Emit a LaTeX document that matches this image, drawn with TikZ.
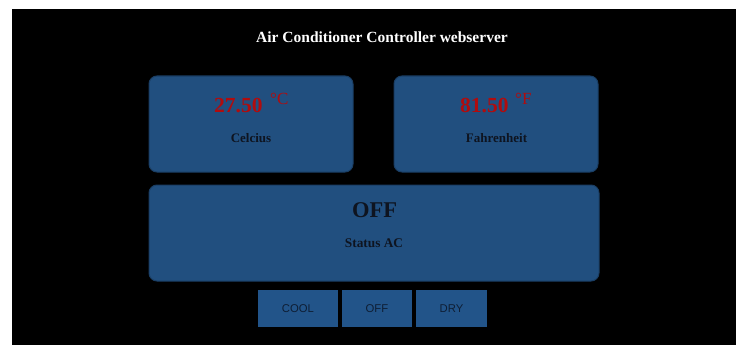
\documentclass[tikz,border=0pt]{standalone}
\usepackage{fontspec}
\setmainfont{Liberation Serif}
\newfontfamily\arialfont{Liberation Sans}
\definecolor{pageblack}{RGB}{0,0,0}
\definecolor{panelblue}{RGB}{33,79,127}
\definecolor{paneledge}{RGB}{26,62,100}
\definecolor{btnblue}{RGB}{34,84,137}
\definecolor{valred}{RGB}{176,12,14}
\definecolor{labdark}{RGB}{14,20,32}
\definecolor{btntext}{RGB}{14,30,52}
\tikzset{
  panel/.style={fill=panelblue, draw=paneledge, line width=1pt, rounded corners=8pt, inner sep=0pt},
  btn/.style={fill=btnblue, draw=none, inner sep=0pt, minimum width=80pt, minimum height=37pt},
  bigval/.style={anchor=base west, inner sep=0pt, text=valred, font=\fontsize{21.5}{24}\selectfont\bfseries},
  unit/.style={anchor=base west, inner sep=0pt, text=valred, font=\fontsize{17}{19}\selectfont},
  plabel/.style={anchor=base, inner sep=0pt, text=labdark, font=\fontsize{13}{15}\selectfont\bfseries},
  btnlabel/.style={anchor=base, inner sep=0pt, text=btntext, font=\arialfont\fontsize{11.3}{13}\selectfont}
}
\begin{document}
\begin{tikzpicture}[x=1pt,y=-1pt]
\useasboundingbox (0,0) rectangle (736,345);
\fill[white] (0,0) rectangle (736,345);
\fill[pageblack] (12,9) rectangle (736,345);
% title
\node[anchor=base, inner sep=0pt, text=white, font=\fontsize{15.5}{18}\selectfont\bfseries] (title) at (382,43) {Air Conditioner Controller webserver};
% panels
\node[panel, minimum width=204pt, minimum height=96pt] (cel) at (251,124) {};
\node[panel, minimum width=204pt, minimum height=96pt] (fah) at (496,124) {};
\node[panel, minimum width=450pt, minimum height=96pt] (stat) at (374,233) {};
% celsius
\node[bigval] (celval) at (214,112) {27.50};
\node[unit] (celunit) at (270,104) {°C};
\node[plabel] (cellab) at (251,142) {Celcius};
% fahrenheit
\node[bigval] (fahval) at (460,112) {81.50};
\node[unit] (fahunit) at (515,104) {°F};
\node[plabel] (fahlab) at (496.5,142) {Fahrenheit};
% status
\node[anchor=base, inner sep=0pt, text=labdark, font=\fontsize{22.5}{26}\selectfont\bfseries] (statval) at (374.5,217) {OFF};
\node[plabel, font=\fontsize{13.3}{15}\selectfont\bfseries] (statlab) at (374,247) {Status AC};
% buttons
\node[btn, minimum width=80pt] (cool) at (298,308.5) {};
\node[btn, minimum width=70pt] (off) at (377,308.5) {};
\node[btn, minimum width=71pt] (dry) at (451.5,308.5) {};
\node[btnlabel] (coollab) at (298,312) {COOL};
\node[btnlabel] (offlab) at (377,312) {OFF};
\node[btnlabel] (drylab) at (451.5,312) {DRY};
\end{tikzpicture}
\end{document}
